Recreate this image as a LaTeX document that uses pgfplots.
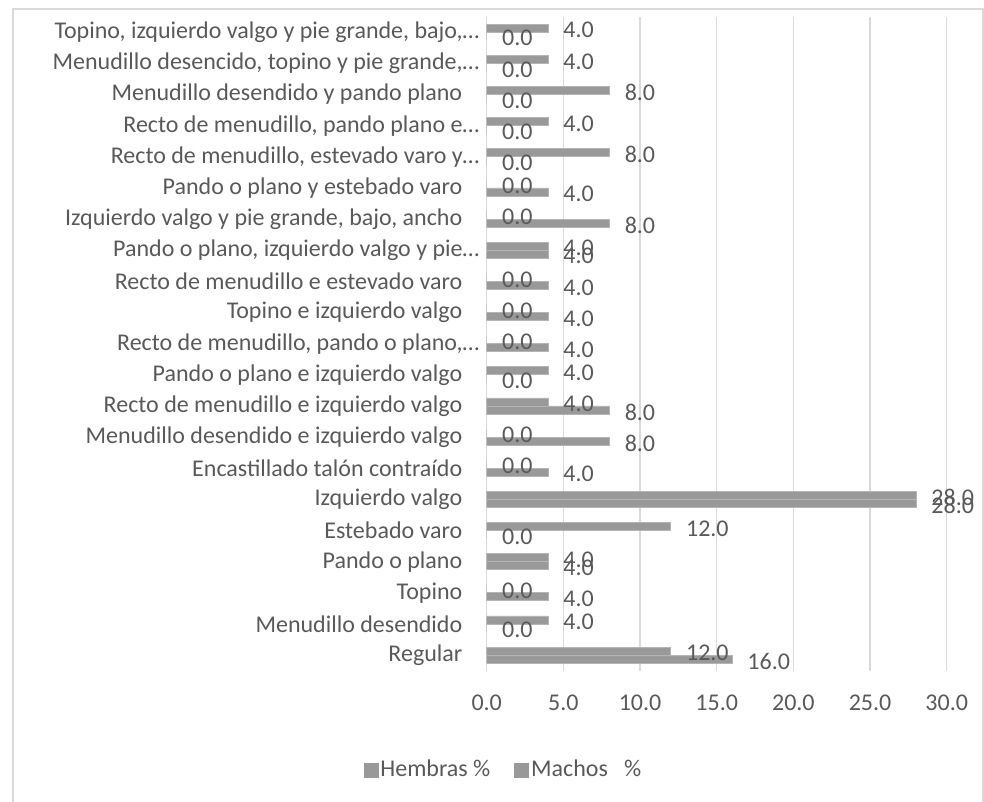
\documentclass[border=0pt]{standalone}
\usepackage{pgfplots}
\pgfplotsset{compat=1.18}
\usepackage{fontspec}
\setmainfont{Carlito}
\definecolor{txt}{HTML}{595959}
\definecolor{gridc}{HTML}{D9D9D9}
\definecolor{barc}{HTML}{999999}
\definecolor{barl}{HTML}{B4B4B4}
\newcommand{\tl}{\hspace*{8.5pt}}
\newcommand{\fnt}{\fontsize{12}{14}\selectfont}
\begin{document}
\begin{tikzpicture}
\useasboundingbox (0pt,0pt) rectangle (492pt,-401pt);
\draw[gridc, line width=0.75pt] (6.5pt,-401pt) -- (6.5pt,-4.5pt) -- (491.5pt,-4.5pt) -- (491.5pt,-401pt);
\begin{axis}[
  at={(243.35pt,-335.3pt)}, anchor=south west,
  scale only axis, width=230pt, height=326.95pt,
  xbar, bar width=4pt,
  xmin=0, xmax=30, ymin=-0.5, ymax=20.5,
  xtick={0,5,...,30},
  ytick={0,...,20},
  yticklabels={Regular\tl, Menudillo desendido\tl, Topino\tl, Pando o plano\tl,
    Estebado varo\tl, Izquierdo valgo\tl, Encastillado talón contraído\tl,
    Menudillo desendido e izquierdo valgo\tl, Recto de menudillo e izquierdo valgo\tl,
    Pando o plano e izquierdo valgo\tl, {Recto de menudillo, pando o plano,…},
    Topino e izquierdo valgo\tl, Recto de menudillo e estevado varo\tl,
    {Pando o plano, izquierdo valgo y pie…}, {Izquierdo valgo y pie grande, bajo, ancho\tl},
    Pando o plano y estebado varo\tl, {Recto de menudillo, estevado varo y…},
    {Recto de menudillo, pando plano e…}, Menudillo desendido y pando plano\tl,
    {Menudillo desencido, topino y pie grande,…}, {Topino, izquierdo valgo y pie grande, bajo,…}},
  major tick length=0pt,
  axis line style={draw=none},
  xmajorgrids, ymajorgrids=false,
  grid style={gridc, line width=0.75pt},
  tick label style={font=\fnt, text=txt},
  /pgf/number format/assume math mode=true,
  xticklabel={\pgfmathprintnumber[fixed,fixed zerofill,precision=1]{\tick}},
  xticklabel style={anchor=north, inner sep=0pt, yshift=-12pt},
  yticklabel style={anchor=east, inner sep=0pt, xshift=-3.5pt},
  nodes near coords={\pgfmathprintnumber[fixed,fixed zerofill,precision=1]{\pgfplotspointmeta}},
  every node near coord/.append style={anchor=west, inner sep=0pt, xshift=7.5pt, yshift=-1pt,
    font=\fnt, text=txt},
  legend style={draw=none, fill=none, at={(0.0365,-0.152)}, anchor=center,
    legend columns=2, font=\fnt, text=txt,
    /tikz/every even column/.append style={column sep=11pt},
    nodes={inner sep=1pt}},
  legend image code/.code={\fill[barc] (-1pt,-3.5pt) rectangle (6pt,3.5pt);},
]
\addplot[fill=barc, draw=barl, line width=0.4pt, bar shift=-2pt] coordinates {
(16,0) (0,1) (4,2) (4,3) (0,4) (28,5) (4,6) (8,7) (8,8) (0,9) (4,10)
(4,11) (4,12) (4,13) (8,14) (4,15) (0,16) (0,17) (0,18) (0,19) (0,20)};
\addlegendentry{Hembras \%}
\addplot[fill=barc, draw=barl, line width=0.4pt, bar shift=2pt] coordinates {
(12,0) (4,1) (0,2) (4,3) (12,4) (28,5) (0,6) (0,7) (4,8) (4,9) (0,10)
(0,11) (0,12) (4,13) (0,14) (0,15) (8,16) (4,17) (8,18) (4,19) (4,20)};
\addlegendentry{Machos\ \ \ \%}
\end{axis}
\end{tikzpicture}
\end{document}
